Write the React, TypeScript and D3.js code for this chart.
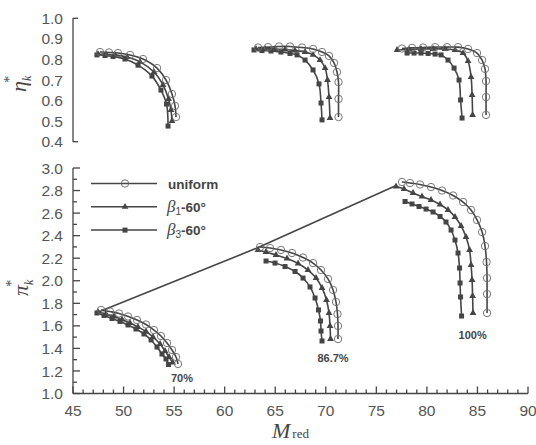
import * as d3 from "d3";

type Pt = [number, number];

const xTicks = [45, 50, 55, 60, 65, 70, 75, 80, 85, 90];
const etaTicks = [0.4, 0.5, 0.6, 0.7, 0.8, 0.9, 1.0];
const piTicks = [1.0, 1.2, 1.4, 1.6, 1.8, 2.0, 2.2, 2.4, 2.6, 2.8, 3.0];

// efficiency eta*_k vs M_red
const eta70Uniform: Pt[] = [[47.67, 0.836], [48.56, 0.834], [49.45, 0.831], [50.64, 0.822], [51.92, 0.802], [53.31, 0.758], [54.2, 0.7], [54.79, 0.632], [55.09, 0.574], [55.19, 0.52]];
const eta70Beta1: Pt[] = [[47.47, 0.826], [48.26, 0.824], [49.15, 0.822], [50.34, 0.812], [51.63, 0.788], [53.01, 0.739], [53.9, 0.676], [54.45, 0.608], [54.69, 0.554], [54.79, 0.5]];
const eta70Beta3: Pt[] = [[47.37, 0.822], [48.17, 0.819], [48.96, 0.814], [50.14, 0.802], [51.43, 0.772], [52.81, 0.719], [53.7, 0.651], [54.25, 0.583], [54.4, 0.476]];

const eta867Uniform: Pt[] = [[63.3, 0.858], [64.29, 0.86], [65.38, 0.863], [66.46, 0.863], [67.65, 0.858], [68.74, 0.851], [69.63, 0.836], [70.32, 0.817], [70.82, 0.783], [71.11, 0.739], [71.26, 0.69], [71.26, 0.608], [71.26, 0.52]];
const eta867Beta1: Pt[] = [[63.1, 0.851], [63.99, 0.851], [64.98, 0.851], [65.97, 0.848], [66.96, 0.843], [67.95, 0.836], [68.74, 0.822], [69.43, 0.797], [69.93, 0.758], [70.17, 0.7], [70.32, 0.617], [70.42, 0.515]];
const eta867Beta3: Pt[] = [[62.9, 0.846], [63.69, 0.843], [64.58, 0.841], [65.57, 0.836], [66.46, 0.829], [67.16, 0.822], [67.95, 0.797], [68.74, 0.749], [69.33, 0.681], [69.53, 0.588], [69.63, 0.506]];

const eta100Uniform: Pt[] = [[77.54, 0.853], [78.53, 0.856], [79.62, 0.858], [80.81, 0.86], [81.99, 0.86], [83.08, 0.86], [84.07, 0.851], [84.96, 0.831], [85.46, 0.797], [85.75, 0.754], [85.85, 0.695], [85.85, 0.617], [85.85, 0.53]];
const eta100Beta1: Pt[] = [[77.05, 0.846], [78.24, 0.848], [79.42, 0.851], [80.61, 0.851], [81.8, 0.851], [82.79, 0.846], [83.58, 0.831], [84.07, 0.792], [84.37, 0.715], [84.47, 0.627], [84.52, 0.53]];
const eta100Beta3: Pt[] = [[78.04, 0.831], [78.73, 0.831], [79.42, 0.831], [80.12, 0.829], [80.81, 0.826], [81.4, 0.822], [82.09, 0.797], [82.69, 0.758], [83.18, 0.7], [83.33, 0.603], [83.48, 0.515]];

// pressure ratio pi*_k vs M_red
const pi70Uniform: Pt[] = [[47.77, 1.741], [48.66, 1.727], [49.55, 1.71], [50.44, 1.683], [51.33, 1.652], [52.22, 1.612], [53.01, 1.563], [53.7, 1.51], [54.3, 1.448], [54.79, 1.386], [55.19, 1.324], [55.39, 1.262]];
const pi70Beta1: Pt[] = [[47.47, 1.723], [48.26, 1.705], [49.06, 1.683], [49.85, 1.656], [50.64, 1.625], [51.43, 1.59], [52.22, 1.55], [52.91, 1.501], [53.61, 1.439], [54.1, 1.377], [54.5, 1.324], [54.85, 1.275]];
const pi70Beta3: Pt[] = [[47.37, 1.714], [48.07, 1.692], [48.86, 1.665], [49.65, 1.639], [50.44, 1.608], [51.23, 1.572], [52.02, 1.528], [52.72, 1.475], [53.31, 1.412], [53.8, 1.35], [54.2, 1.306], [54.45, 1.257]];

const pi867Uniform: Pt[] = [[63.5, 2.299], [64.49, 2.29], [65.57, 2.273], [66.66, 2.246], [67.75, 2.206], [68.74, 2.157], [69.53, 2.095], [70.22, 2.016], [70.72, 1.918], [71.01, 1.812], [71.16, 1.705], [71.21, 1.599], [71.21, 1.483]];
const pi867Beta1: Pt[] = [[63.3, 2.273], [64.09, 2.255], [65.08, 2.228], [66.17, 2.197], [67.26, 2.153], [68.24, 2.095], [69.04, 2.024], [69.63, 1.936], [70.07, 1.829], [70.32, 1.714], [70.42, 1.599], [70.47, 1.483]];
const pi867Beta3: Pt[] = [[64.09, 2.175], [64.98, 2.157], [65.97, 2.126], [66.96, 2.082], [67.75, 2.024], [68.44, 1.945], [68.94, 1.847], [69.28, 1.741], [69.48, 1.643], [69.53, 1.554], [69.63, 1.466]];

const pi100Uniform: Pt[] = [[77.54, 2.876], [78.33, 2.867], [79.32, 2.854], [80.41, 2.831], [81.5, 2.8], [82.59, 2.756], [83.58, 2.698], [84.37, 2.627], [84.96, 2.539], [85.46, 2.432], [85.75, 2.308], [85.9, 2.166], [85.95, 2.024], [85.95, 1.882], [85.95, 1.714]];
const pi100Beta1: Pt[] = [[76.95, 2.836], [77.74, 2.814], [78.63, 2.778], [79.52, 2.747], [80.41, 2.716], [81.3, 2.676], [82.09, 2.628], [82.78, 2.565], [83.38, 2.486], [83.87, 2.388], [84.22, 2.273], [84.37, 2.14], [84.47, 2.007], [84.52, 1.865], [84.56, 1.714]];
const pi100Beta3: Pt[] = [[77.84, 2.703], [78.53, 2.681], [79.22, 2.659], [79.92, 2.636], [80.61, 2.61], [81.3, 2.57], [81.89, 2.521], [82.39, 2.45], [82.78, 2.361], [83.08, 2.246], [83.23, 2.113], [83.28, 1.98], [83.33, 1.856], [83.43, 1.687]];

const surgeLine: Pt[] = [[47.27, 1.714], [63.2, 2.29], [76.85, 2.84]];

const speedLabels = ["70%", "86.7%", "100%"];
const speedLabelAt: Pt[] = [[55.78, 1.102], [70.72, 1.279], [84.53, 1.483]];

const legendLabels = ["uniform", "β1-60°", "β3-60°"];

const W = 536;
const H = 445;
const ink = "#454545";
const tickInk = "#555";
const sans = "'Liberation Sans', Arial, sans-serif";
const serif = "'Liberation Serif', 'Times New Roman', serif";

const x = d3.scaleLinear().domain([45, 90]).range([73, 528]);
const yTop = d3.scaleLinear().domain([0.4, 1.0]).range([141.7, 18.3]);
const yBot = d3.scaleLinear().domain([1.0, 3.0]).range([393.5, 168]);

type Kind = "circle" | "triangle" | "square";

function Marker({ kind, cx, cy }: { kind: Kind; cx: number; cy: number }) {
  if (kind === "circle")
    return <circle cx={cx} cy={cy} r={3.7} fill="none" stroke="#6a6a6a" strokeWidth={0.9} />;
  if (kind === "triangle") {
    const p = d3.symbol(d3.symbolTriangle, 20)() ?? "";
    return <path d={p} transform={`translate(${cx},${cy})`} fill={ink} />;
  }
  return <rect x={cx - 2.5} y={cy - 2.5} width={5} height={5} fill={ink} />;
}

function Series({ data, y, kind }: { data: Pt[]; y: d3.ScaleLinear<number, number>; kind: Kind }) {
  const line = d3
    .line<Pt>()
    .x((d) => x(d[0]))
    .y((d) => y(d[1]))
    .curve(d3.curveCatmullRom.alpha(0.5));
  return (
    <g>
      <path d={line(data) ?? ""} fill="none" stroke={ink} strokeWidth={1.6} />
      {data.map((d, i) => (
        <Marker key={i} kind={kind} cx={x(d[0])} cy={y(d[1])} />
      ))}
    </g>
  );
}

export default function App() {
  const topSets: [Pt[], Kind][] = [
    [eta70Beta3, "square"], [eta70Beta1, "triangle"], [eta70Uniform, "circle"],
    [eta867Beta3, "square"], [eta867Beta1, "triangle"], [eta867Uniform, "circle"],
    [eta100Beta3, "square"], [eta100Beta1, "triangle"], [eta100Uniform, "circle"],
  ];
  const botSets: [Pt[], Kind][] = [
    [pi70Beta3, "square"], [pi70Beta1, "triangle"], [pi70Uniform, "circle"],
    [pi867Beta3, "square"], [pi867Beta1, "triangle"], [pi867Uniform, "circle"],
    [pi100Beta3, "square"], [pi100Beta1, "triangle"], [pi100Uniform, "circle"],
  ];
  const minorPi = d3.range(1.0, 3.001, 0.1);
  const minorX = d3.range(45, 90.001, 1);
  const surge = d3.line<Pt>().x((d) => x(d[0])).y((d) => yBot(d[1]));
  const kinds: Kind[] = ["circle", "triangle", "square"];

  return (
    <svg width={W} height={H} style={{ position: "absolute", left: 0, top: 0, background: "#fff" }}>
      {/* upper panel axis */}
      <g stroke={ink} strokeWidth={1.3} fill="none">
        <line x1={x(45)} x2={x(45)} y1={yTop(1.0)} y2={yTop(0.4)} />
        <line x1={x(45)} x2={x(45) + 5} y1={yTop(1.0)} y2={yTop(1.0)} />
        <line x1={x(45)} x2={x(45) + 5} y1={yTop(0.4)} y2={yTop(0.4)} />
      </g>
      {etaTicks.map((t) => (
        <text key={t} x={63} y={yTop(t)} dy="0.36em" textAnchor="end" fontFamily={sans} fontSize={15.5} fill={tickInk}>
          {t.toFixed(1)}
        </text>
      ))}

      {/* lower panel axes */}
      <g stroke={ink} strokeWidth={1.3} fill="none">
        <line x1={x(45)} x2={x(45)} y1={yBot(3.0)} y2={yBot(1.0)} />
        <line x1={x(45)} x2={x(90)} y1={yBot(1.0)} y2={yBot(1.0)} />
        {minorPi.map((t, i) => (
          <line key={i} x1={x(45)} x2={x(45) + (i % 2 === 0 ? 7 : 4)} y1={yBot(t)} y2={yBot(t)} />
        ))}
        {minorX.map((t, i) => (
          <line key={i} x1={x(t)} x2={x(t)} y1={yBot(1.0)} y2={yBot(1.0) - (i % 5 === 0 ? 7 : 4)} />
        ))}
      </g>
      {piTicks.map((t) => (
        <text key={t} x={63} y={yBot(t)} dy="0.36em" textAnchor="end" fontFamily={sans} fontSize={15.5} fill={tickInk}>
          {t.toFixed(1)}
        </text>
      ))}
      {xTicks.map((t) => (
        <text key={t} x={x(t)} y={yBot(1.0) + 22} textAnchor="middle" fontFamily={sans} fontSize={15.5} fill={tickInk}>
          {t}
        </text>
      ))}

      {/* axis titles */}
      <text transform="translate(26,92) rotate(-90)" fontFamily={serif} fontSize={22} fontStyle="italic" fill={ink}>
        η<tspan fontSize={12} dy={5}>k</tspan>
        <tspan fontSize={14} dx={-7} dy={-17} fontStyle="normal">*</tspan>
      </text>
      <text transform="translate(28,296) rotate(-90)" fontFamily={serif} fontSize={22} fontStyle="italic" fill={ink}>
        π<tspan fontSize={12} dy={5}>k</tspan>
        <tspan fontSize={14} dx={-7} dy={-17} fontStyle="normal">*</tspan>
      </text>
      <text x={272} y={438} fontFamily={serif} fill={ink}>
        <tspan fontSize={22} fontStyle="italic">M</tspan>
        <tspan fontSize={13} dx={2}>red</tspan>
      </text>

      {/* surge line */}
      <path d={surge(surgeLine) ?? ""} fill="none" stroke={ink} strokeWidth={1.6} />

      {topSets.map(([d, k], i) => (
        <Series key={"t" + i} data={d} y={yTop} kind={k} />
      ))}
      {botSets.map(([d, k], i) => (
        <Series key={"b" + i} data={d} y={yBot} kind={k} />
      ))}

      {speedLabels.map((s, i) => (
        <text key={s} x={x(speedLabelAt[i][0])} y={yBot(speedLabelAt[i][1])} textAnchor="middle" fontFamily={sans} fontWeight="bold" fontSize={11} fill={ink}>
          {s}
        </text>
      ))}

      {/* legend */}
      {legendLabels.map((s, i) => {
        const ly = 183.5 + i * 23.3;
        return (
          <g key={s}>
            <line x1={91} x2={157} y1={ly} y2={ly} stroke={ink} strokeWidth={1.5} />
            <Marker kind={kinds[i]} cx={125} cy={ly} />
            {i === 0 ? (
              <text x={168} y={ly + 5} fontFamily={sans} fontWeight="bold" fontSize={13.5} fill={ink}>
                {s}
              </text>
            ) : (
              <text x={167} y={ly + 5} fontFamily={sans} fontWeight="bold" fontSize={13.5} fill={ink}>
                <tspan fontStyle="italic" fontWeight="normal" fontFamily={serif} fontSize={17}>{s[0]}</tspan>
                <tspan fontSize={10} dy={3} fontWeight="normal">{s[1]}</tspan>
                <tspan dy={-3}>{s.slice(2)}</tspan>
              </text>
            )}
          </g>
        );
      })}
    </svg>
  );
}
